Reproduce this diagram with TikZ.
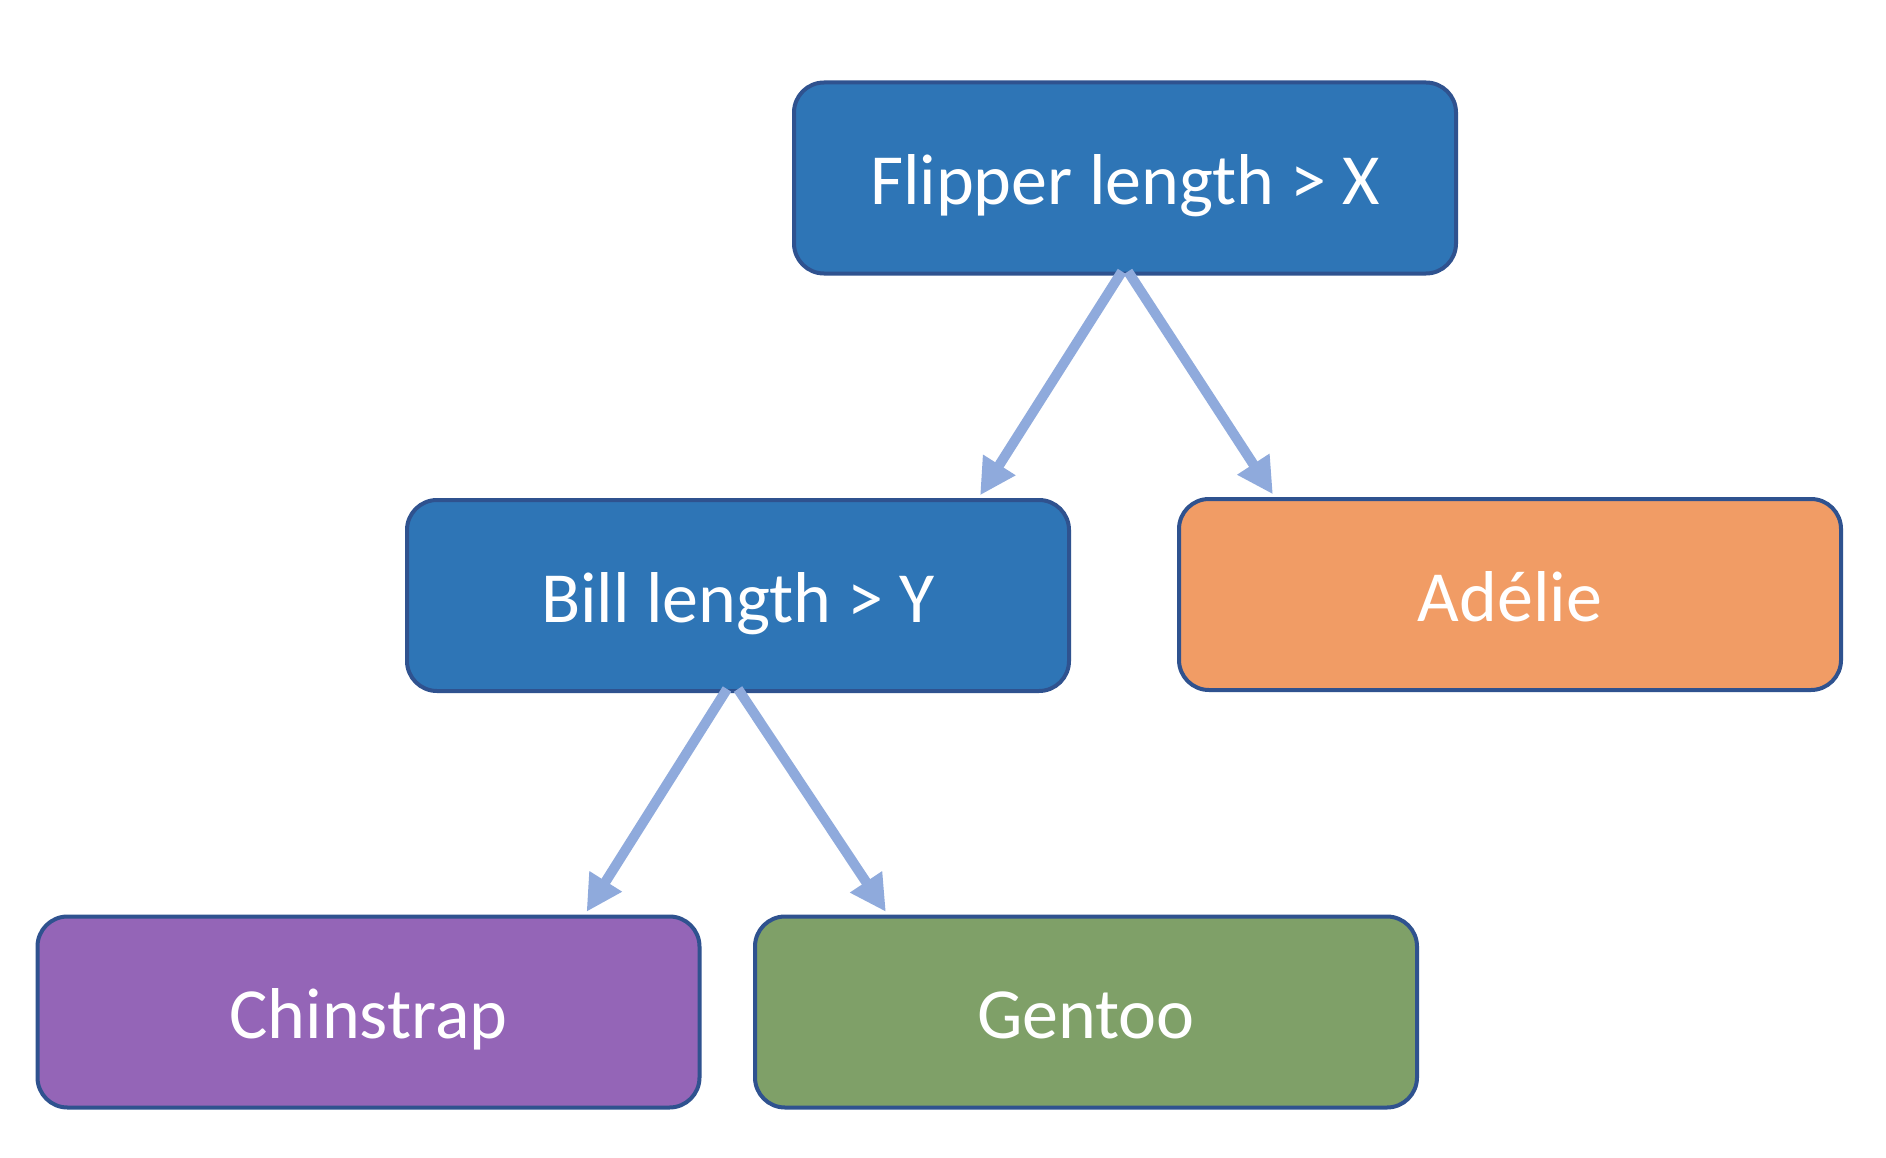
\documentclass[tikz,border=0pt]{standalone}
\usepackage{fontspec}
\setmainfont{Carlito}
\usetikzlibrary{arrows.meta}
\definecolor{boxblue}{RGB}{46,117,182}
\definecolor{edgeblue}{RGB}{47,82,143}
\definecolor{boxorange}{RGB}{241,156,101}
\definecolor{boxpurple}{RGB}{148,101,183}
\definecolor{boxgreen}{RGB}{127,160,104}
\definecolor{arrowblue}{RGB}{143,170,220}
\tikzset{
  treebox/.style={draw=edgeblue, line width=4pt, rounded corners=30pt,
    minimum width=662pt, minimum height=191pt, inner sep=0pt,
    text height=60pt, text depth=7pt,
    text=white, font=\fontsize{72}{86}\selectfont},
  treearrow/.style={draw=arrowblue, line width=10pt,
    -{Triangle[length=36pt,width=36pt]}, shorten >=2pt}
}
\begin{document}
\begin{tikzpicture}[x=1pt,y=-1pt]
\useasboundingbox[fill=white] (0,0) rectangle (1886,1158);
\node[treebox, fill=boxblue] (flip) at (1125,178) {Flipper length > X};
\node[treebox, fill=boxblue] (bill) at (738,595.5) {Bill length > Y};
\node[treebox, fill=boxorange] (adelie) at (1510,594.5) {Adélie};
\node[treebox, fill=boxpurple] (chin) at (368.5,1012) {Chinstrap};
\node[treebox, fill=boxgreen] (gentoo) at (1086,1012) {Gentoo};
\draw[treearrow] ([xshift=-3pt,yshift=4pt]flip.south) -- ([xshift=241pt,yshift=1pt]bill.north);
\draw[treearrow] ([xshift=3pt,yshift=4pt]flip.south) -- ([xshift=97pt,yshift=1pt]adelie.north west);
\draw[treearrow] ([xshift=-11pt,yshift=4pt]bill.south) -- ([xshift=217pt,yshift=1pt]chin.north);
\draw[treearrow] ([xshift=0pt,yshift=4pt]bill.south) -- ([xshift=134pt,yshift=1pt]gentoo.north west);
\end{tikzpicture}
\end{document}
